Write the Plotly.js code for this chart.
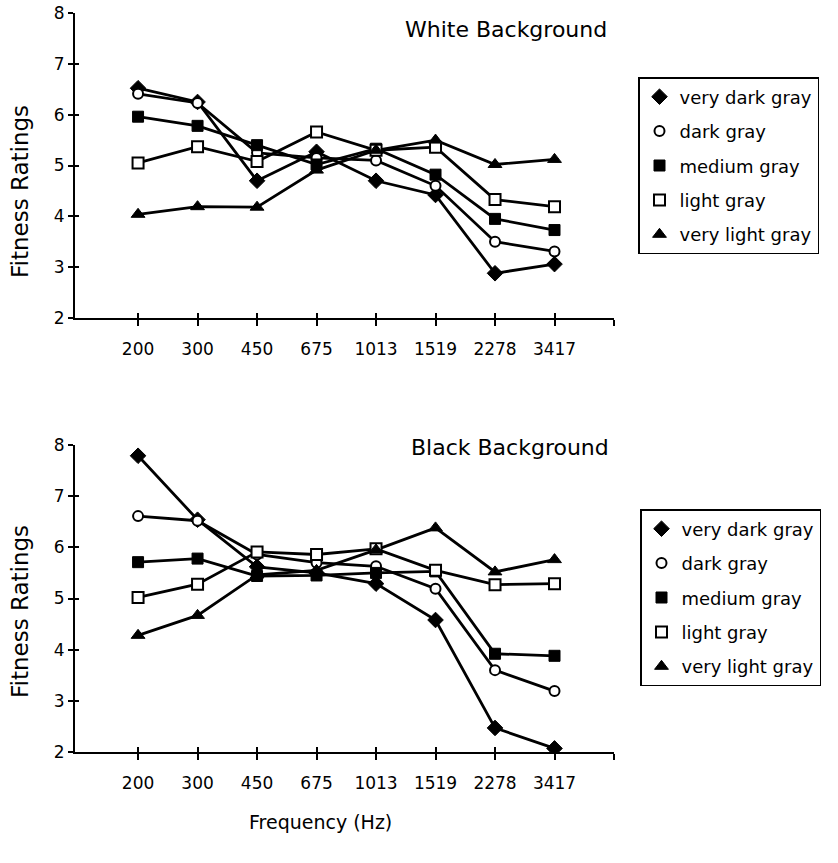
<!DOCTYPE html>
<html>
<head>
<meta charset="utf-8">
<script src="https://cdn.plot.ly/plotly-3.0.1.min.js"></script>
<style>html,body{margin:0;padding:0;background:#fff;}</style>
</head>
<body>
<div id="chart" style="width:838px;height:863px;"></div>
<script>
// Frequency categories (Hz)
const frequencies = ["200", "300", "450", "675", "1013", "1519", "2278", "3417"];
const seriesNames = ["very dark gray", "dark gray", "medium gray", "light gray", "very light gray"];

// White Background panel
const whiteVeryDark  = [6.52, 6.25, 4.70, 5.27, 4.70, 4.42, 2.88, 3.06];
const whiteDark      = [6.41, 6.23, 5.25, 5.15, 5.10, 4.60, 3.50, 3.31];
const whiteMedium    = [5.96, 5.78, 5.40, 5.02, 5.33, 4.82, 3.95, 3.73];
const whiteLight     = [5.05, 5.37, 5.08, 5.66, 5.30, 5.36, 4.33, 4.19];
const whiteVeryLight = [4.04, 4.19, 4.18, 4.91, 5.30, 5.50, 5.02, 5.12];

// Black Background panel
const blackVeryDark  = [7.79, 6.54, 5.62, 5.50, 5.29, 4.58, 2.47, 2.07];
const blackDark      = [6.61, 6.52, 5.86, 5.70, 5.63, 5.19, 3.60, 3.19];
const blackMedium    = [5.71, 5.78, 5.44, 5.45, 5.50, 5.53, 3.92, 3.88];
const blackLight     = [5.02, 5.28, 5.91, 5.86, 5.97, 5.55, 5.27, 5.29];
const blackVeryLight = [4.28, 4.67, 5.46, 5.55, 5.95, 6.38, 5.52, 5.76];

const whiteData = [whiteVeryDark, whiteDark, whiteMedium, whiteLight, whiteVeryLight];
const blackData = [blackVeryDark, blackDark, blackMedium, blackLight, blackVeryLight];

// extra empty slot so the axis carries an end tick
const categoryOrder = frequencies.concat([" "]);

const markerStyles = [
  {symbol: "diamond", size: 12, color: "#000", line: {color: "#000", width: 1}},
  {symbol: "circle", size: 10, color: "#fff", line: {color: "#000", width: 2}},
  {symbol: "square", size: 11, color: "#000", line: {color: "#000", width: 1}},
  {symbol: "square", size: 11, color: "#fff", line: {color: "#000", width: 2}},
  {symbol: "triangle-up", size: 12, color: "#000", line: {color: "#000", width: 1}}
];

const FONT = "DejaVu Sans, Verdana, sans-serif";
const traces = [];
function addPanel(data, xa, ya, xm, ym, legendId, tag) {
  data.forEach((vals, i) => {
    traces.push({x: frequencies, y: vals, xaxis: xa, yaxis: ya, mode: "lines",
      line: {color: "#000", width: 2.8}, showlegend: false, hoverinfo: "skip"});
  });
  data.forEach((vals, i) => {
    traces.push({x: frequencies, y: vals, xaxis: xm, yaxis: ym, mode: "markers",
      name: seriesNames[i], legend: legendId, legendgroup: tag + i,
      marker: markerStyles[i], showlegend: true});
  });
}
addPanel(whiteData, "x", "y", "x3", "y3", "legend", "w");
addPanel(blackData, "x2", "y2", "x4", "y4", "legend2", "b");

const W = 838, H = 863;
const xdom = [75 / W, 614 / W];
const topDom = [1 - 318 / H, 1 - 13 / H];
const botDom = [1 - 752 / H, 1 - 445 / H];
const xr = [-1.06, 8.0];

function catAxis(anchor) {
  return {domain: xdom, anchor: anchor, type: "category",
    categoryorder: "array", categoryarray: categoryOrder, range: xr,
    showline: true, linecolor: "#000", linewidth: 2, showgrid: false, zeroline: false,
    ticks: "outside", ticklen: 6, tickwidth: 2, tickcolor: "#000",
    ticklabelstandoff: 9, tickfont: {family: FONT, size: 17, color: "#000"}};
}
function catAxisIn(over, anchor) {
  return {domain: xdom, overlaying: over, anchor: anchor, type: "category",
    categoryorder: "array", categoryarray: categoryOrder, range: xr,
    showline: false, showgrid: false, zeroline: false, showticklabels: false,
    ticks: "inside", ticklen: 5, tickwidth: 2, tickcolor: "#000"};
}
function valAxis(dom, anchor) {
  return {domain: dom, anchor: anchor, range: [2, 8], dtick: 1, tick0: 2,
    showline: true, linecolor: "#000", linewidth: 2, showgrid: false, zeroline: false,
    ticks: "outside", ticklen: 5, tickwidth: 2, tickcolor: "#000",
    tickfont: {family: FONT, size: 17, color: "#000"}};
}
function valAxisIn(dom, over, anchor) {
  return {domain: dom, overlaying: over, anchor: anchor, range: [2, 8], dtick: 1, tick0: 2,
    showticklabels: false, showline: false, showgrid: false, zeroline: false,
    ticks: "inside", ticklen: 4, tickwidth: 2, tickcolor: "#000"};
}

const legendBase = {
  bordercolor: "#000", borderwidth: 1.5, bgcolor: "#fff",
  font: {family: FONT, size: 18, color: "#000"},
  xanchor: "left", yanchor: "top", itemclick: false, tracegroupgap: 8
};

function ann(text, px, py, size, angle) {
  return {text: text, x: px / W, y: 1 - py / H, xref: "paper", yref: "paper",
    xanchor: "center", yanchor: "middle", showarrow: false, textangle: angle || 0,
    font: {family: FONT, size: size, color: "#000"}};
}

const layout = {
  width: W, height: H, margin: {l: 0, r: 0, t: 0, b: 0},
  paper_bgcolor: "#fff", plot_bgcolor: "rgba(0,0,0,0)",
  showlegend: true,
  xaxis: catAxis("y"),
  yaxis: valAxis(topDom, "x"),
  xaxis2: catAxis("y2"),
  yaxis2: valAxis(botDom, "x2"),
  xaxis3: catAxisIn("x", "y3"),
  yaxis3: valAxisIn(topDom, "y", "x3"),
  xaxis4: catAxisIn("x2", "y4"),
  yaxis4: valAxisIn(botDom, "y2", "x4"),
  legend: Object.assign({}, legendBase, {x: 638 / W, y: 1 - 77 / H}),
  legend2: Object.assign({}, legendBase, {x: 640 / W, y: 1 - 509 / H}),
  annotations: [
    ann("White Background", 506, 29, 22),
    ann("Black Background", 510, 448, 22),
    ann("Fitness Ratings", 20, 192, 23, -90),
    ann("Fitness Ratings", 20, 612, 23, -90),
    ann("Frequency (Hz)", 320, 822, 19)
  ]
};

Plotly.newPlot("chart", traces, layout, {displayModeBar: false, staticPlot: true});
</script>
</body>
</html>
